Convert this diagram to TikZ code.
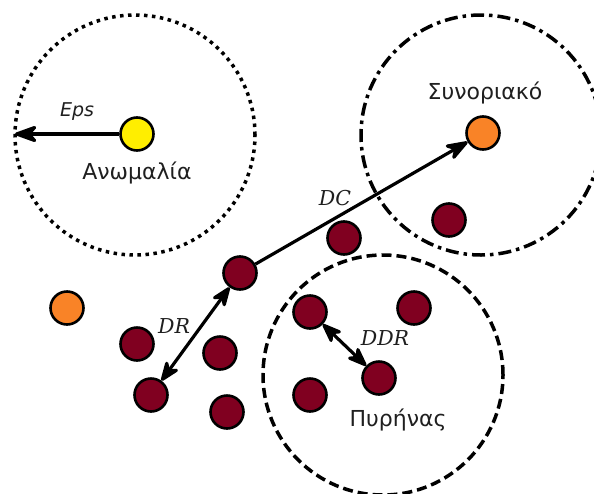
\documentclass[tikz,border=0pt]{standalone}
\usepackage{fontspec}
\setmainfont{DejaVu Sans}
\newfontfamily\lblserif{DejaVu Serif}
\usetikzlibrary{arrows.meta}
\definecolor{cyel}{HTML}{FFEE00}
\definecolor{cora}{HTML}{F98327}
\definecolor{cred}{HTML}{800020}
\tikzset{
  pt/.style={circle, draw=black, line width=2.6pt, minimum size=33pt, inner sep=0pt},
  ptred/.style={pt, fill=cred},
  ptora/.style={pt, fill=cora},
  ptyel/.style={pt, fill=cyel},
  region/.style={circle, draw=black, line width=3.5pt, minimum size=240pt, inner sep=0pt},
  arr/.style={line width=3.2pt, -{Stealth[length=28pt,width=20pt,inset=9pt,round]}},
  darr/.style={line width=3.2pt, {Stealth[length=25pt,width=19pt,inset=8pt,round]}-{Stealth[length=25pt,width=19pt,inset=8pt,round]}},
  glbl/.style={font=\fontsize{22}{26}\selectfont, text=black!88},
  mlbl/.style={font=\lblserif\itshape\fontsize{20.5}{24}\selectfont, text=black!88},
  elbl/.style={font=\itshape\fontsize{19}{22}\selectfont, text=black!88},
}
\begin{document}
\begin{tikzpicture}[x=1pt,y=-1pt]
\useasboundingbox (0,0) rectangle (594,493);
% regions
\node[region, dash pattern=on 3.5pt off 4.5pt] (rA) at (135,135) {};
\node[region, dash pattern=on 13pt off 5pt on 3.5pt off 5pt] (rB) at (481,135) {};
\node[region, dash pattern=on 10pt off 5pt] (rC) at (383,375) {};
% points
\node[ptyel] (y) at (137,134) {};
\node[ptora] (o1) at (483,133) {};
\node[ptora] (o2) at (67,308) {};
\node[ptred] (r1) at (240,273) {};
\node[ptred] (r2) at (344,238) {};
\node[ptred] (r3) at (449,220) {};
\node[ptred] (r4) at (137,344) {};
\node[ptred] (r5) at (220,353) {};
\node[ptred] (r6) at (151,395) {};
\node[ptred] (r7) at (227,412) {};
\node[ptred] (c1) at (310,312) {};
\node[ptred] (c2) at (414,308) {};
\node[ptred] (c3) at (379,378) {};
\node[ptred] (c4) at (310,395) {};
\coordinate (epsend) at (15,134);
% connectors
\draw[arr] (y) -- (epsend);
\draw[arr] (r1) -- (o1);
\draw[darr] (r1) -- (r6);
\draw[darr] (c1) -- (c3);
% labels
\node[elbl] (leps) at (77,112) {Eps};
\node[glbl] (lanw) at (137,173) {Ανωμαλία};
\node[glbl] (lsyn) at (485,93) {Συνοριακό};
\node[mlbl] (ldc) at (335,198) {DC};
\node[mlbl] (ldr) at (174,326) {DR};
\node[mlbl] (lddr) at (385,338) {DDR};
\node[glbl] (lpyr) at (398,420) {Πυρήνας};
\end{tikzpicture}
\end{document}
